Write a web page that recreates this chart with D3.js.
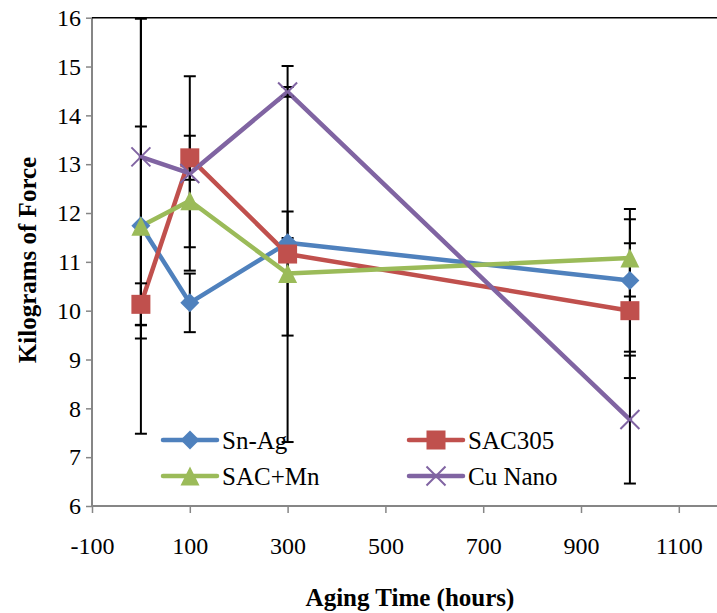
<!DOCTYPE html>
<html>
<head>
<meta charset="utf-8">
<script src="https://cdn.jsdelivr.net/npm/d3@7"></script>
<style>
  html, body { margin: 0; padding: 0; background: #fff; }
  svg { display: block; font-family: "Liberation Serif", "Times New Roman", serif; }
</style>
</head>
<body>
<svg id="chart" width="717" height="613"></svg>
<script>
// Aging time (hours) at which each solder was tested
const agingHours = [0, 100, 300, 1000];

// Mean pull force (kgf) and its error-bar half-width, per solder
const snAg      = [11.74, 10.16, 11.39, 10.62];
const snAgErr   = [2.03, 0.60, 0.10, 1.46];
const sac305    = [10.13, 13.13, 11.16, 10.00];
const sac305Err = [0.43, 0.45, 3.85, 1.38];
const sacMn     = [11.73, 12.25, 10.76, 11.08];
const sacMnErr  = [4.25, 0.95, 1.27, 0.79];
const cuNano    = [13.15, 12.81, 14.48, 7.77];
const cuNanoErr = [3.72, 1.99, 0.10, 1.31];

const seriesNames = ["Sn-Ag", "SAC305", "SAC+Mn", "Cu Nano"];
const xTicks = [-100, 100, 300, 500, 700, 900, 1100];
const yTicks = [6, 7, 8, 9, 10, 11, 12, 13, 14, 15, 16];

const series = [
  { name: seriesNames[0], values: snAg,   errs: snAgErr,   color: "#4F81BD", marker: "diamond" },
  { name: seriesNames[1], values: sac305, errs: sac305Err, color: "#C0504D", marker: "square" },
  { name: seriesNames[2], values: sacMn,  errs: sacMnErr,  color: "#9BBB59", marker: "triangle" },
  { name: seriesNames[3], values: cuNano, errs: cuNanoErr, color: "#8064A2", marker: "cross" }
];

const serif = '"Liberation Serif", "Times New Roman", serif';
const svg = d3.select("#chart");
const plotLeft = 92, plotTop = 17.7, plotBottom = 506;

// Axis runs -100..1300; the 1300 end lies past the right edge of the page
const x = d3.scaleLinear().domain([-100, 1300]).range([plotLeft, plotLeft + 1400 * 0.489]);
const y = d3.scaleLinear().domain([6, 16]).range([plotBottom, plotTop]);

svg.append("defs").append("clipPath").attr("id", "plotClip")
  .append("rect").attr("x", plotLeft).attr("y", plotTop)
  .attr("width", 717 - plotLeft).attr("height", plotBottom - plotTop);

// Axes (plain hyphen for negative labels)
const axisColor = "#868686";
const plainNum = d => String(d);
const yAxis = svg.append("g").attr("transform", `translate(${plotLeft},0)`)
  .call(d3.axisLeft(y).tickValues(yTicks).tickSize(6).tickPadding(5).tickFormat(plainNum));
const xAxis = svg.append("g").attr("transform", `translate(0,${plotBottom})`)
  .call(d3.axisBottom(x).tickValues(xTicks).tickSize(7).tickPadding(24).tickFormat(plainNum));
[yAxis, xAxis].forEach(g => {
  g.attr("font-family", serif).attr("font-size", 24);
  g.select(".domain").attr("stroke", axisColor).attr("stroke-width", 2);
  g.selectAll(".tick line").attr("stroke", axisColor).attr("stroke-width", 1.5);
  g.selectAll(".tick text").attr("fill", "#000").style("font-size", "24px").style("font-family", serif);
});
xAxis.select(".domain").attr("d", `M${plotLeft},0H717`);
yAxis.select(".domain").attr("d", `M0,${plotBottom}V${plotTop}`);

// Upper border of the plot area
svg.append("line").attr("x1", plotLeft).attr("x2", 717).attr("y1", plotTop).attr("y2", plotTop)
  .attr("stroke", "#000").attr("stroke-width", 1.6);

// Axis titles
svg.append("text").attr("x", 410).attr("y", 606).attr("text-anchor", "middle")
  .style("font-size", "25px").style("font-weight", "bold").style("font-family", serif)
  .text("Aging Time (hours)");
svg.append("text").attr("transform", "translate(36,260) rotate(-90)").attr("text-anchor", "middle")
  .style("font-size", "25px").style("font-weight", "bold").style("font-family", serif)
  .text("Kilograms of Force");

const plot = svg.append("g").attr("clip-path", "url(#plotClip)");

// Series lines
const line = d3.line().x((d, i) => x(agingHours[i])).y(d => y(d));
series.forEach(s => {
  plot.append("path").datum(s.values).attr("d", line)
    .attr("fill", "none").attr("stroke", s.color).attr("stroke-width", 4.5)
    .attr("stroke-linejoin", "round").attr("stroke-linecap", "round");
});

// Error bars
series.forEach(s => {
  const g = plot.append("g").attr("stroke", "#000").attr("stroke-width", 2);
  s.values.forEach((v, i) => {
    const cx = x(agingHours[i]);
    const hi = y(v + s.errs[i]), lo = y(v - s.errs[i]);
    g.append("line").attr("x1", cx).attr("x2", cx).attr("y1", hi).attr("y2", lo);
    g.append("line").attr("x1", cx - 6).attr("x2", cx + 6).attr("y1", hi).attr("y2", hi);
    g.append("line").attr("x1", cx - 6).attr("x2", cx + 6).attr("y1", lo).attr("y2", lo);
  });
});

// Marker shapes, centred at (cx, cy)
function drawMarker(g, type, cx, cy, color) {
  const r = 9.5;
  if (type === "diamond") {
    g.append("path").attr("d", `M${cx},${cy - r}L${cx + r},${cy}L${cx},${cy + r}L${cx - r},${cy}Z`)
      .attr("fill", color);
  } else if (type === "square") {
    g.append("rect").attr("x", cx - r).attr("y", cy - r).attr("width", 2 * r).attr("height", 2 * r)
      .attr("fill", color);
  } else if (type === "triangle") {
    g.append("path").attr("d", `M${cx},${cy - r}L${cx + r},${cy + r}L${cx - r},${cy + r}Z`)
      .attr("fill", color);
  } else {
    g.append("path").attr("d", `M${cx - r},${cy - r}L${cx + r},${cy + r}M${cx + r},${cy - r}L${cx - r},${cy + r}`)
      .attr("stroke", color).attr("stroke-width", 2).attr("fill", "none");
  }
}

series.forEach(s => {
  const g = plot.append("g");
  s.values.forEach((v, i) => drawMarker(g, s.marker, x(agingHours[i]), y(v), s.color));
});

// Legend, two rows by two columns inside the plot area
const legendPos = [[163, 440], [409, 440], [163, 476], [409, 476]];
series.forEach((s, i) => {
  const [lx, ly] = legendPos[i];
  const g = svg.append("g");
  g.append("line").attr("x1", lx).attr("x2", lx + 54).attr("y1", ly).attr("y2", ly)
    .attr("stroke", s.color).attr("stroke-width", 4.5).attr("stroke-linecap", "round");
  drawMarker(g, s.marker, lx + 27, ly, s.color);
  g.append("text").attr("x", lx + 59).attr("y", ly).attr("dy", "0.35em")
    .style("font-size", "25px").style("font-family", serif).text(s.name);
});
</script>
</body>
</html>
